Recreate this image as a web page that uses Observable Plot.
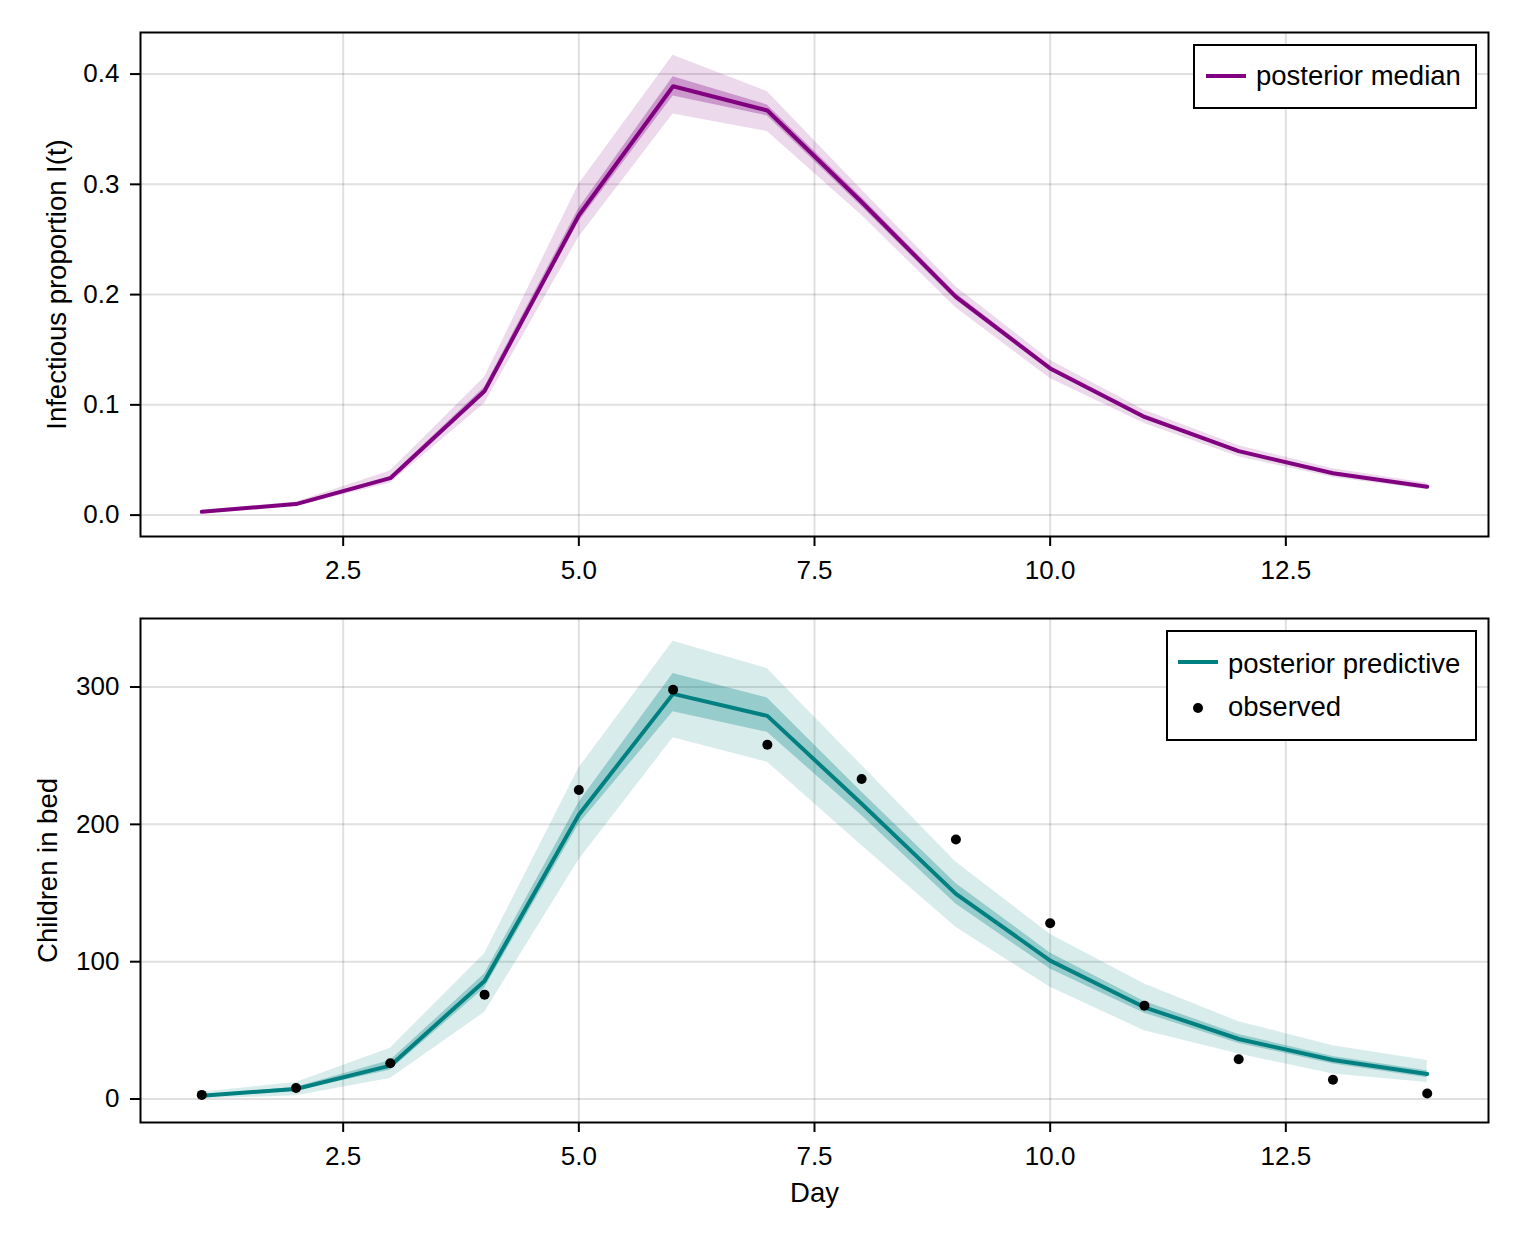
<!DOCTYPE html>
<html><head><meta charset="utf-8">
<script src="https://cdn.jsdelivr.net/npm/d3@7"></script>
<script src="https://cdn.jsdelivr.net/npm/@observablehq/plot@0.6"></script>
<style>
html,body{margin:0;padding:0;background:#fff;}
#wrap{position:relative;width:1520px;height:1240px;font-family:"Liberation Sans",Arial,Helvetica,sans-serif;color:#000;}
#top,#bot{position:absolute;left:0;}
#top{top:0;}
#bot{top:584px;}
.legend{position:absolute;border:2px solid #000;background:#fff;box-sizing:border-box;}
.txt{position:absolute;font-size:27.5px;line-height:27.5px;height:27.5px;white-space:nowrap;transform:translateY(-50%);}
.sw{position:absolute;height:4px;}
.dotsw{position:absolute;width:10px;height:10px;border-radius:50%;background:#000;}
</style>
</head><body>
<div id="wrap">
  <div id="top"></div>
  <div id="bot"></div>
  <div class="legend" style="left:1193px;top:44px;width:284px;height:65px;"></div>
  <div class="sw" style="left:1206px;top:74px;width:40px;background:purple;"></div>
  <div class="txt" style="left:1256px;top:75.5px;">posterior median</div>
  <div class="legend" style="left:1166px;top:630px;width:311px;height:111px;"></div>
  <div class="sw" style="left:1178px;top:660px;width:40px;background:teal;"></div>
  <div class="txt" style="left:1228px;top:664px;">posterior predictive</div>
  <div class="dotsw" style="left:1193px;top:703px;"></div>
  <div class="txt" style="left:1228px;top:707px;">observed</div>
</div>
<script>
// ---- data ----
const days = [1,2,3,4,5,6,7,8,9,10,11,12,13,14];

// Infectious proportion I(t)
const medI  = [0.003, 0.010, 0.0335, 0.1125, 0.272, 0.389, 0.367, 0.284, 0.198, 0.133, 0.089, 0.058, 0.038, 0.0257];
const hi95I = [0.004, 0.012, 0.040, 0.125, 0.300, 0.417, 0.384, 0.295, 0.207, 0.1405, 0.095, 0.063, 0.042, 0.029];
const lo95I = [0.002, 0.008, 0.029, 0.1013, 0.252, 0.3637, 0.348, 0.272, 0.188, 0.124, 0.083, 0.053, 0.034, 0.023];
const hi50I = [0.0033, 0.0107, 0.035, 0.116, 0.278, 0.3976, 0.372, 0.288, 0.201, 0.135, 0.091, 0.059, 0.039, 0.0265];
const lo50I = [0.0027, 0.0093, 0.032, 0.109, 0.266, 0.380, 0.362, 0.280, 0.195, 0.131, 0.087, 0.057, 0.037, 0.0250];

// Children in bed
const observed = [3, 8, 26, 76, 225, 298, 258, 233, 189, 128, 68, 29, 14, 4];
const medP  = [2.4, 7.3, 24.3, 86, 207, 295, 279, 215, 149.4, 100.8, 66.8, 43.7, 28.4, 18.2];
const hi95P = [5, 12, 37, 105.7, 241, 333.3, 313.4, 243, 172.5, 120, 83.8, 56.3, 38.8, 28];
const lo95P = [0, 2.4, 15, 63, 174, 263, 245.3, 184.6, 125, 81.3, 49.8, 32.8, 18.2, 12];
const hi50P = [3, 8.5, 28, 91, 216, 309.8, 292, 223.5, 157, 106.4, 71, 47, 31, 20.5];
const lo50P = [1.5, 6, 21, 80.6, 200, 282, 267, 206.5, 142, 94.7, 62.5, 40.5, 25.5, 15.5];

const xTicks = [2.5, 5.0, 7.5, 10.0, 12.5];
const yTicksI = [0.0, 0.1, 0.2, 0.3, 0.4];
const yTicksP = [0, 100, 200, 300];

const tableI = days.map((d,i)=>({day:d, med:medI[i], hi95:hi95I[i], lo95:lo95I[i], hi50:hi50I[i], lo50:lo50I[i]}));
const tableP = days.map((d,i)=>({day:d, med:medP[i], hi95:hi95P[i], lo95:lo95P[i], hi50:hi50P[i], lo50:lo50P[i], obs:observed[i]}));

const font = "Liberation Sans, Arial, Helvetica, sans-serif";
const grid = {stroke:"black", strokeOpacity:0.12, strokeWidth:2};

function panel({table, color, yDomain, yTicks, yFmt, height, mt, mb, ylabel, ylabelDx, xlabel, dots}) {
  const marks = [
    Plot.gridX(xTicks, grid),
    Plot.gridY(yTicks, grid),
    Plot.areaY(table, {x:"day", y1:"lo95", y2:"hi95", fill:color, fillOpacity:0.15}),
    Plot.areaY(table, {x:"day", y1:"lo50", y2:"hi50", fill:color, fillOpacity:0.3}),
    Plot.lineY(table, {x:"day", y:"med", stroke:color, strokeWidth:4}),
  ];
  if (dots) marks.push(Plot.dot(table, {x:"day", y:"obs", r:5, fill:"black"}));
  marks.push(
    Plot.axisX(xTicks, {tickSize:10, tickPadding:14, strokeWidth:2, fontSize:26, tickFormat:d3.format(".1f"), label:null}),
    Plot.axisY(yTicks, {tickSize:10, tickPadding:11, strokeWidth:2, fontSize:26, tickFormat:yFmt, label:null}),
    Plot.frame({stroke:"black", strokeWidth:2}),
    Plot.text([ylabel], {frameAnchor:"left", text:d=>d, rotate:-90, dx:ylabelDx, fontSize:27.5, fill:"black", textAnchor:"middle", lineAnchor:"middle"})
  );
  if (xlabel) marks.push(Plot.text([xlabel], {frameAnchor:"bottom", text:d=>d, dy:71, fontSize:27.5, fill:"black", textAnchor:"middle", lineAnchor:"middle"}));
  return Plot.plot({
    width:1520, height, marginLeft:140, marginRight:32, marginTop:mt, marginBottom:mb,
    style:{fontFamily:font, fontSize:"26px", background:"white", color:"black", overflow:"visible"},
    x:{domain:[0.35,14.65]},
    y:{domain:yDomain},
    marks
  });
}

document.getElementById("top").append(panel({
  table:tableI, color:"purple", yDomain:[-0.0194,0.4377], yTicks:yTicksI, yFmt:d3.format(".1f"),
  height:584, mt:32, mb:48, ylabel:"Infectious proportion I(t)", ylabelDx:-83, xlabel:null, dots:false
}));
document.getElementById("bot").append(panel({
  table:tableP, color:"teal", yDomain:[-17.1,349.9], yTicks:yTicksP, yFmt:d3.format("d"),
  height:656, mt:34, mb:118, ylabel:"Children in bed", ylabelDx:-92, xlabel:"Day", dots:true
}));
</script>
</body></html>
